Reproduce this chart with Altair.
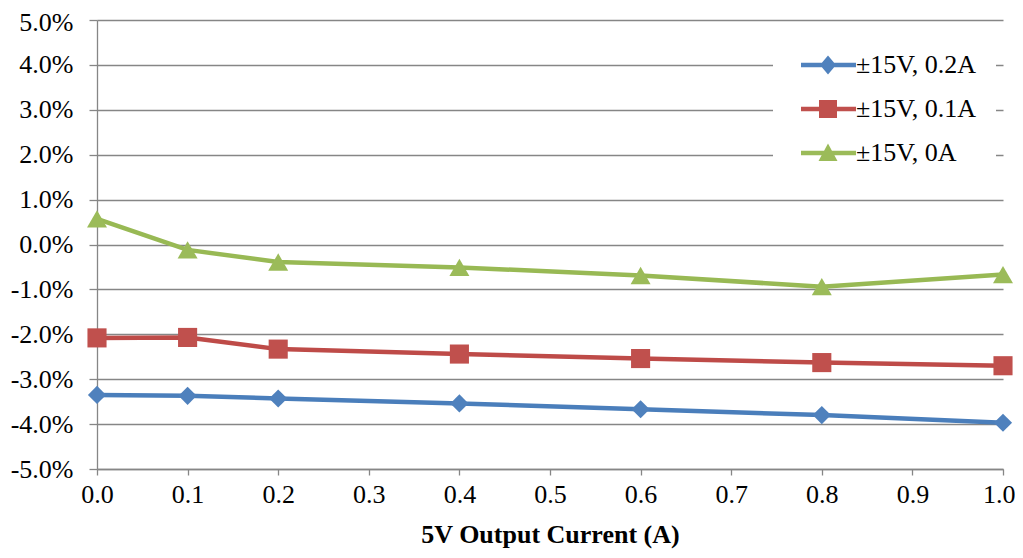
import altair as alt
import pandas as pd

# ---- data ----
series = ["±15V, 0.2A", "±15V, 0.1A", "±15V, 0A"]
x_vals = [0.0, 0.1, 0.2, 0.4, 0.6, 0.8, 1.0]
s_02A = [-3.35, -3.37, -3.43, -3.54, -3.67, -3.80, -3.97]
s_01A = [-2.08, -2.07, -2.33, -2.44, -2.54, -2.63, -2.70]
s_0A = [0.57, -0.12, -0.39, -0.51, -0.69, -0.94, -0.67]
x_ticks = [round(i * 0.1, 1) for i in range(11)]
y_ticks = [-5, -4, -3, -2, -1, 0, 1, 2, 3, 4, 5]

line_colors = ["#4A7EBB", "#BE4B48", "#98B954"]
marker_colors = ["#4F81BD", "#C0504D", "#9BBB59"]
marker_shapes = ["diamond", "square", "triangle-up"]
marker_sizes = [330, 400, 440]
legend_paths = [
    "M-2.7,-0.23 L2.8,-0.23 L2.8,0.23 L-2.7,0.23 Z M0,-0.95 L0.8,0 L0,0.95 L-0.8,0 Z",
    "M-2.7,-0.23 L2.8,-0.23 L2.8,0.23 L-2.7,0.23 Z M-0.9,-0.9 L0.9,-0.9 L0.9,0.9 L-0.9,0.9 Z",
    "M-2.7,-0.23 L2.8,-0.23 L2.8,0.23 L-2.7,0.23 Z M0,-0.95 L0.95,0.8 L-0.95,0.8 Z",
]

rows = []
for name, vals in zip(series, [s_02A, s_01A, s_0A]):
    for xv, yv in zip(x_vals, vals):
        rows.append({"current": xv, "reg": yv, "series": name})
df = pd.DataFrame(rows)

FONT = "Liberation Serif"
FS = 26
GRID = "#868686"

x_enc = alt.X(
    "current:Q",
    scale=alt.Scale(domain=[0, 1], nice=False, zero=False),
    axis=alt.Axis(
        values=x_ticks, format=".1f", title="5V Output Current (A)",
        grid=False, tickSize=6, labelPadding=6, titlePadding=14, labelFlush=False,
        labelFont=FONT, labelFontSize=FS, titleFont=FONT, titleFontSize=FS,
        labelAlign={"condition": {"test": "datum.value >= 1", "value": "right"}, "value": "center"},
        labelOffset={"condition": {"test": "datum.value >= 1", "value": 12}, "value": 0},
    ),
)
y_enc = alt.Y(
    "reg:Q",
    scale=alt.Scale(domain=[-5, 5], nice=False),
    axis=alt.Axis(
        values=y_ticks, title=None, grid=True, tickSize=8, labelPadding=16,
        labelFont=FONT, labelFontSize=FS, labelFlush=False,
        labelOffset={"condition": {"test": "datum.value >= 5", "value": 2}, "value": 0},
        labelExpr="(datum.value < 0 ? '-' : '') + format(abs(datum.value), '.1f') + '%'",
    ),
)

lines = alt.Chart(df).mark_line(strokeWidth=4.5, strokeJoin="round", strokeCap="round").encode(
    x=x_enc, y=y_enc,
    color=alt.Color("series:N", scale=alt.Scale(domain=series, range=line_colors), legend=None),
    detail="series:N",
)

points = alt.Chart(df).mark_point(filled=True, opacity=1).encode(
    x=x_enc, y=y_enc,
    color=alt.Color("series:N", scale=alt.Scale(domain=series, range=marker_colors), legend=None),
    shape=alt.Shape("series:N", scale=alt.Scale(domain=series, range=marker_shapes), legend=None),
    size=alt.Size("series:N", scale=alt.Scale(domain=series, range=marker_sizes), legend=None),
)

legend_layer = alt.Chart(df).mark_point(filled=True, opacity=1, size=400).encode(
    x=x_enc, y=y_enc,
    color=alt.Color(
        "series:N", scale=alt.Scale(domain=series, range=marker_colors),
        legend=alt.Legend(
            title=None, orient="none", legendX=676, legendY=12,
            fillColor="white", padding=20, symbolOffset=22, rowPadding=18, labelOffset=15,
            symbolSize=400, symbolOpacity=1, labelFont=FONT, labelFontSize=FS,
            labelColor="black", labelLimit=400,
            labelExpr="datum.label + '\u2003'",
        ),
    ),
    shape=alt.Shape("series:N", scale=alt.Scale(domain=series, range=legend_paths)),
).transform_filter(alt.datum.current < -1)

chart = (
    alt.layer(lines, points, legend_layer)
    .resolve_scale(color="independent", shape="independent", size="independent")
    .properties(
        width=906, height=449,
        autosize=alt.AutoSizeParams(type="none"),
        padding={"left": 89, "top": 12, "right": 12, "bottom": 81},
    )
    .configure(font=FONT, style={"guide-label": {"font": FONT, "fontSize": FS},
                                 "guide-title": {"font": FONT, "fontSize": FS}})
    .configure_view(stroke=None)
    .configure_axis(
        labelFont=FONT, labelFontSize=FS, labelColor="black",
        titleFont=FONT, titleFontSize=FS, titleFontWeight="bold", titleColor="black",
        domainColor=GRID, domainWidth=1.3, tickColor=GRID, tickWidth=1.3,
        gridColor=GRID, gridWidth=1.3, gridOpacity=1,
    )
)

chart.save("out.html", embed_options={"renderer": "svg", "actions": False})
